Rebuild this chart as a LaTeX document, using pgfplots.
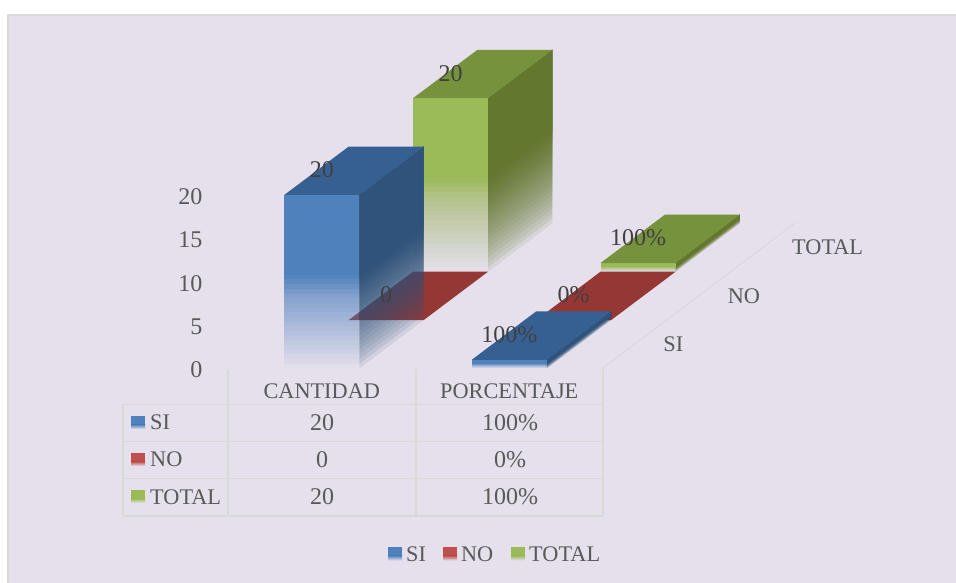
\documentclass[border=0pt]{standalone}
\usepackage{fontspec}
\setmainfont{Liberation Serif}
\usepackage{pgfplots}
\pgfplotsset{compat=1.18}

\definecolor{panel}{HTML}{E5E0EC}
\definecolor{rule}{HTML}{D9D9D9}
\definecolor{ink}{HTML}{595959}
\definecolor{labelink}{HTML}{404040}
\definecolor{sifront}{HTML}{4F81BD}
\definecolor{sitop}{HTML}{376092}
\definecolor{siside}{HTML}{30537B}
\definecolor{nokey}{HTML}{C0504D}
\definecolor{notop}{HTML}{953735}
\definecolor{totfront}{HTML}{9BBB59}
\definecolor{tottop}{HTML}{76923C}
\definecolor{totside}{HTML}{64772F}

\newcommand{\lb}{\fontsize{22.3pt}{24pt}\selectfont}
\newcommand{\dg}{\fontsize{24pt}{26pt}\selectfont}

% opacity wanted at layer i of 20, side and front of a bar
\pgfmathdeclarefunction{sidefade}{1}{\pgfmathparse{(max(#1-0.5,0.0001)/20)^0.6}}
\pgfmathdeclarefunction{frontfade}{1}{\pgfmathparse{ifthenelse(0.54*max(#1-0.5,0)/20<0.42,1.5*0.54*max(#1-0.5,0)/20,0.63+(0.54*(#1-0.5)/20-0.42)/0.12*0.37)}}

% one bar: category, series, value, front, top, side colours
% the fade is built from nested layers, each reaching up to the top of the bar
\newcommand{\plotbar}[6]{%
  \pgfmathsetmacro\xa{#1+0.3}\pgfmathsetmacro\xb{#1+0.7}%
  \pgfmathsetmacro\ya{#2}\pgfmathsetmacro\yb{#2+1}%
  \pgfmathsetmacro\ztop{#3}%
  \ifdim #3pt>0pt
    \foreach \i in {1,...,20}{%
      \pgfmathsetmacro\za{#3*0.54*(\i-1)/20}%
      \pgfmathsetmacro\al{max(0,1-(1-sidefade(\i))/(1-sidefade(\i-1)))}%
      \edef\temp{\noexpand\addplot3[draw=none,fill=#6,fill opacity=\al] coordinates {(\xb,\ya,\za)(\xb,\yb,\za)(\xb,\yb,\ztop)(\xb,\ya,\ztop)};}\temp
    }%
    \pgfmathsetmacro\zh{#3*0.54}%
    \edef\temp{\noexpand\addplot3[draw=none,fill=#6] coordinates {(\xb,\ya,\zh)(\xb,\yb,\zh)(\xb,\yb,\ztop)(\xb,\ya,\ztop)};}\temp
    \foreach \i in {1,...,20}{%
      \pgfmathsetmacro\za{#3*0.54*(\i-1)/20}%
      \pgfmathsetmacro\al{max(0,1-(1-frontfade(\i))/(1-frontfade(\i-1)))}%
      \edef\temp{\noexpand\addplot3[draw=none,fill=#4,fill opacity=\al] coordinates {(\xa,\ya,\za)(\xb,\ya,\za)(\xb,\ya,\ztop)(\xa,\ya,\ztop)};}\temp
    }%
    \edef\temp{\noexpand\addplot3[draw=none,fill=#4] coordinates {(\xa,\ya,\zh)(\xb,\ya,\zh)(\xb,\ya,\ztop)(\xa,\ya,\ztop)};}\temp
  \fi
  \edef\temp{\noexpand\addplot3[draw=none,fill=#5] coordinates {(\xa,\ya,\ztop)(\xb,\ya,\ztop)(\xb,\yb,\ztop)(\xa,\yb,\ztop)};}\temp
}

% table swatch, solid above and fading below
\newcommand{\swatch}[3]{%
  \fill[#3] (#1,#2) rectangle ++(14,8.5);
  \shade[top color=#3,bottom color=panel] (#1,#2+8.5) rectangle ++(14,4.5);
}
% the same for the legend
\pgfplotsset{legkey/.style={legend image code/.code={%
  \path[draw=none] (0pt,0pt) -- (16pt,0pt);
  \fill[#1,draw=none] (0pt,-1pt) rectangle (14pt,7pt);
  \shade[top color=#1,bottom color=panel,draw=none] (0pt,-6pt) rectangle (14pt,-1pt);}}}

\begin{document}
\begin{tikzpicture}
\useasboundingbox (0,0) rectangle (956pt,583pt);
\fill[white] (0,0) rectangle (956pt,583pt);
\fill[rule] (7pt,0pt) rectangle (956pt,569pt);
\fill[panel] (9pt,0pt) rectangle (956pt,567pt);

\begin{axis}[
  at={(228pt,214.5pt)}, anchor=origin,
  x={(187.5pt,0pt)}, y={(64.4pt,48.4pt)}, z={(0pt,8.675pt)},
  xmin=0, xmax=2, ymin=0, ymax=3, zmin=0, zmax=20,
  clip=false,
  axis line style={draw=none},
  major tick length=0pt,
  /pgf/number format/assume math mode=true,
  xtick={0.5,1.5}, xticklabels={CANTIDAD,PORCENTAJE},
  ytick=\empty,
  ztick={0,5,10,15,20},
  xtick pos=left, ztick pos=left,
  x tick label style={font=\lb,text=ink,anchor=center,yshift=-23pt},
  z tick label style={font=\dg,text=ink,anchor=east,xshift=-22pt,yshift=-1.5pt},
  legend columns=3,
  legend cell align=left,
  legend style={at={(157pt,-186pt)},anchor=west,draw=none,fill=none,font=\lb,text=ink,
    /tikz/column 2/.style={column sep=15pt},/tikz/column 4/.style={column sep=16pt}},
]
\addlegendimage{legkey=sifront}
\addlegendentry{SI}
\addlegendimage{legkey=nokey}
\addlegendentry{NO}
\addlegendimage{legkey=totfront}
\addlegendentry{TOTAL}

% CANTIDAD
\plotbar{0}{2}{20}{totfront}{tottop}{totside}
\plotbar{0}{1}{0}{notop}{notop}{notop}
\plotbar{0}{0}{20}{sifront}{sitop}{siside}
% PORCENTAJE (100% = 1)
\plotbar{1}{2}{1}{totfront}{tottop}{totside}
\plotbar{1}{1}{0}{notop}{notop}{notop}
\plotbar{1}{0}{1}{sifront}{sitop}{siside}

% data labels
\addplot3[draw=none,mark=none,point meta=explicit symbolic,nodes near coords,
  every node near coord/.append style={anchor=center,yshift=25pt,font=\dg,text=labelink}]
  coordinates {(0.5,2,20)[20] (0.5,1,0)[0] (0.5,0,20)[20]
               (1.5,2,1)[100\%] (1.5,1,0)[0\%] (1.5,0,1)[100\%]};
% series names along the depth axis
\addplot3[draw=none,mark=none,point meta=explicit symbolic,nodes near coords,
  every node near coord/.append style={anchor=west,xshift=28pt,inner sep=0pt,font=\lb,text=ink}]
  coordinates {(2,0.5,0)[SI] (2,1.5,0)[NO] (2,2.5,0)[TOTAL]};
\end{axis}

% data table under the bars, in picture pixels
\begin{scope}[x=1pt,y=-1pt,shift={(0pt,583pt)}]
  \draw[rule,line width=0.8pt] (603,368) -- (795,223);
  \draw[rule,line width=1.5pt]
    (228,369) -- (228,516) (416,369) -- (416,516) (603,369) -- (603,516)
    (123,404.5) -- (123,516)
    (123,404.5) -- (603,404.5) (123,441.5) -- (603,441.5)
    (123,478.5) -- (603,478.5) (123,516) -- (603,516);
  \swatch{131}{416}{sifront}
  \swatch{131}{453}{nokey}
  \swatch{131}{490}{totfront}
  \begin{scope}[every node/.style={text=ink,inner sep=0pt}]
    \node[anchor=west,font=\lb] at (150,422.5) {SI};
    \node[anchor=west,font=\lb] at (150,459.5) {NO};
    \node[anchor=west,font=\lb] at (150,497) {TOTAL};
    \node[font=\dg] at (322,422.5) {20};
    \node[font=\dg] at (322,460) {0};
    \node[font=\dg] at (322,497) {20};
    \node[font=\dg] at (510,422.5) {100\%};
    \node[font=\dg] at (510,460) {0\%};
    \node[font=\dg] at (510,497) {100\%};
  \end{scope}
\end{scope}
\end{tikzpicture}
\end{document}
